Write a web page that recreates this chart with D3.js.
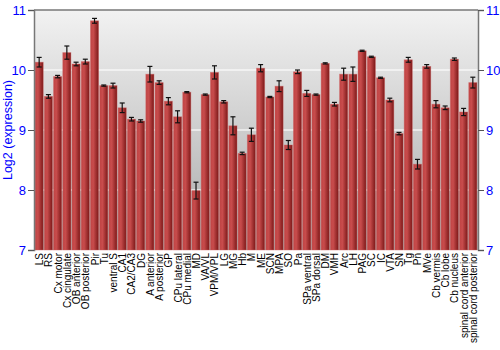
<!DOCTYPE html>
<html>
<head>
<meta charset="utf-8">
<script src="https://cdn.jsdelivr.net/npm/d3@7"></script>
<style>
  body { margin: 0; background: #fff; }
  svg { display: block; font-family: "Liberation Sans", Arial, sans-serif; }
</style>
</head>
<body>
<svg id="chart" width="500" height="350"></svg>
<script>
var regions = ["LS", "RS", "Cx motor", "Cx cingulate", "OB anterior", "OB posterior", "Pir", "Tu",
  "ventral S", "CA1", "CA2/CA3", "DG", "A anterior", "A posterior", "GP", "CPu lateral", "CPu medial",
  "MD", "VA/VL", "VPM/VPL", "LG", "MG", "Hb", "M", "ME", "SCN", "MPA", "SO", "Pa", "SPa ventral",
  "SPa dorsal", "DM", "VMH", "Arc", "LH", "PAG", "SC", "IC", "VTA", "SN", "Tg", "Pn", "MVe",
  "Cb vermis", "Cb lobe", "Cb nucleus", "spinal cord anterior", "spinal cord posterior"];

var expression = [10.13, 9.56, 9.89, 10.29, 10.10, 10.14, 10.82, 9.74,
  9.74, 9.37, 9.18, 9.15, 9.93, 9.79, 9.48, 9.22, 9.63,
  7.99, 9.59, 9.96, 9.47, 9.07, 8.61, 8.92, 10.03, 9.55, 9.73, 8.75, 9.97, 9.61,
  9.59, 10.11, 9.43, 9.93, 9.93, 10.32, 10.22, 9.87, 9.50, 8.94, 10.17, 8.43, 10.06,
  9.43, 9.37, 10.18, 9.30, 9.79];

var stdErr = [0.08, 0.03, 0.02, 0.11, 0.03, 0.04, 0.04, 0.01,
  0.04, 0.08, 0.03, 0.02, 0.13, 0.03, 0.06, 0.10, 0.01,
  0.14, 0.01, 0.11, 0.02, 0.15, 0.02, 0.11, 0.06, 0.01, 0.09, 0.075, 0.03, 0.05,
  0.01, 0.01, 0.03, 0.10, 0.12, 0.01, 0.01, 0.01, 0.03, 0.02, 0.04, 0.08, 0.03,
  0.06, 0.03, 0.02, 0.06, 0.09];

var yTicks = [7, 8, 9, 10, 11];

var margin = {"left": 34, "right": 22, "top": 10, "bottom": 100};
var width = 500, height = 350;

var data = regions.map(function(r, i) {
  return {name: r, value: expression[i], err: stdErr[i]};
});

var svg = d3.select("#chart");
var defs = svg.append("defs");

var bg = defs.append("linearGradient").attr("id", "bg")
  .attr("x1", 0).attr("y1", 0).attr("x2", 0).attr("y2", 1);
bg.append("stop").attr("offset", "0%").attr("stop-color", "#f2f2f2");
bg.append("stop").attr("offset", "100%").attr("stop-color", "#a9a9a9");

var barGrad = defs.append("linearGradient").attr("id", "barGrad")
  .attr("x1", 0).attr("y1", 0).attr("x2", 1).attr("y2", 0);
barGrad.append("stop").attr("offset", "0%").attr("stop-color", "#c04444");
barGrad.append("stop").attr("offset", "35%").attr("stop-color", "#c84c4c");
barGrad.append("stop").attr("offset", "100%").attr("stop-color", "#7c1818");

var x = d3.scaleBand()
  .domain(regions)
  .range([margin.left, width - margin.right])
  .paddingInner(0.12)
  .paddingOuter(0.12);

var y = d3.scaleLinear()
  .domain([7, 11])
  .range([height - margin.bottom, margin.top]);

// plot background
svg.append("rect")
  .attr("x", margin.left).attr("y", margin.top)
  .attr("width", width - margin.left - margin.right)
  .attr("height", height - margin.top - margin.bottom)
  .attr("fill", "url(#bg)");

// grid lines
svg.append("g").selectAll("line")
  .data(yTicks.filter(function(d) { return d > 7 && d < 11; }))
  .enter().append("line")
  .attr("x1", margin.left).attr("x2", width - margin.right)
  .attr("y1", function(d) { return y(d); })
  .attr("y2", function(d) { return y(d); })
  .attr("stroke", "#ffffff").attr("stroke-opacity", 0.75).attr("stroke-width", 1.5);

// bars
svg.append("g").selectAll("rect")
  .data(data)
  .enter().append("rect")
  .attr("x", function(d) { return x(d.name); })
  .attr("y", function(d) { return y(d.value); })
  .attr("width", x.bandwidth())
  .attr("height", function(d) { return y(7) - y(d.value); })
  .attr("fill", "url(#barGrad)")
  .attr("stroke", "#d06060").attr("stroke-opacity", 0.5).attr("stroke-width", 0.8);

// error bars
var eb = svg.append("g").selectAll("g")
  .data(data)
  .enter().append("g")
  .attr("transform", function(d) { return "translate(" + (x(d.name) + x.bandwidth() / 2) + ",0)"; });

eb.append("line")
  .attr("x1", 0).attr("x2", 0)
  .attr("y1", function(d) { return y(d.value + d.err); })
  .attr("y2", function(d) { return y(d.value - d.err); })
  .attr("stroke", "#111").attr("stroke-width", 1.2);

eb.selectAll(".cap")
  .data(function(d) { return [d.value + d.err, d.value - d.err]; })
  .enter().append("line")
  .attr("class", "cap")
  .attr("x1", -2.5).attr("x2", 2.5)
  .attr("y1", function(v) { return y(v); })
  .attr("y2", function(v) { return y(v); })
  .attr("stroke", "#111").attr("stroke-width", 1.2);

// axes
var leftAxis = d3.axisLeft(y).tickValues(yTicks).tickSize(6).tickPadding(2).tickFormat(d3.format("d"));
var rightAxis = d3.axisRight(y).tickValues(yTicks).tickSize(6).tickPadding(2).tickFormat(d3.format("d"));

var gl = svg.append("g").attr("transform", "translate(" + margin.left + ",0)").call(leftAxis);
var gr = svg.append("g").attr("transform", "translate(" + (width - margin.right) + ",0)").call(rightAxis);

[gl, gr].forEach(function(g) {
  g.select(".domain").attr("stroke", "#777").attr("stroke-width", 1.5);
  g.selectAll(".tick line").attr("stroke", "#555");
  g.selectAll(".tick text").attr("fill", "#0000ff").style("font-size", "13px");
});

// top border
svg.append("line")
  .attr("x1", margin.left).attr("x2", width - margin.right)
  .attr("y1", margin.top).attr("y2", margin.top)
  .attr("stroke", "#777").attr("stroke-width", 1.5);

// x labels
svg.append("g").selectAll("text")
  .data(regions)
  .enter().append("text")
  .attr("transform", function(d) {
    return "translate(" + (x(d) + x.bandwidth() / 2 + 4) + "," + (height - margin.bottom + 3) + ") rotate(-90)";
  })
  .attr("text-anchor", "end")
  .style("font-size", "10px")
  .attr("fill", "#000")
  .text(function(d) { return d; });

// y label
svg.append("text")
  .attr("transform", "translate(12," + ((margin.top + height - margin.bottom) / 2) + ") rotate(-90)")
  .attr("text-anchor", "middle")
  .attr("fill", "#0000ff")
  .style("font-size", "12.5px")
  .text("Log2 (expression)");
</script>
</body>
</html>
